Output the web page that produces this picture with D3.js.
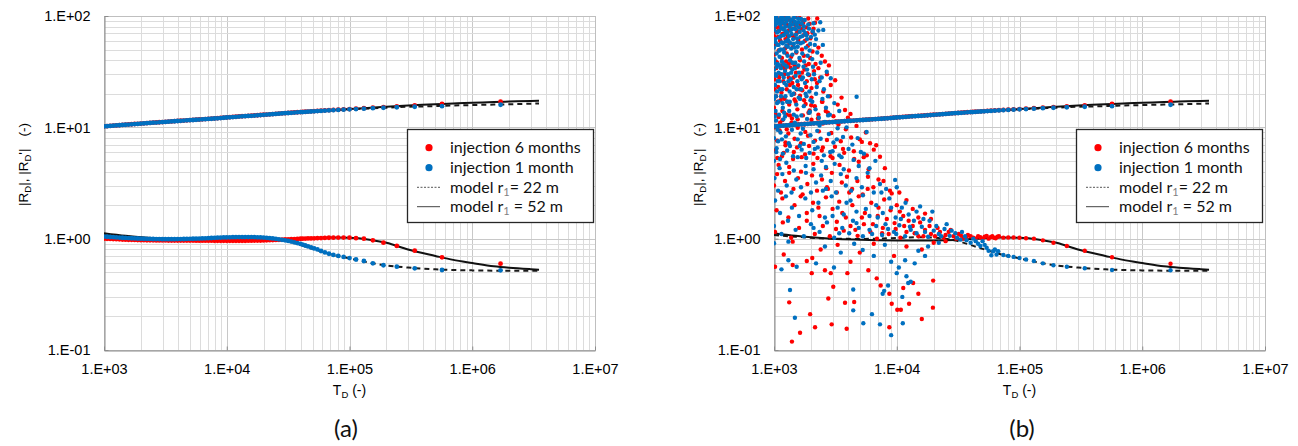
<!DOCTYPE html>
<html>
<head>
<meta charset="utf-8">
<script src="https://cdn.jsdelivr.net/npm/d3@7"></script>
<style>
  body { margin: 0; background: #fff; }
  svg { display: block; }
  .tick text { font-family: "Liberation Sans", Arial, sans-serif; font-size: 14.5px; fill: #000; }
</style>
</head>
<body>
<svg id="chart" width="1298" height="446"></svg>
<script>
// time grid shared by the two smooth curves (dense part then the sparse late-time points)
const tdGrid = [1000,1059,1122,1189,1259,1334,1413,1496,1585,1679,1778,1884,1995,2113,2239,2371,2512,2661,2818,2985,
  3162,3350,3548,3758,3981,4217,4467,4732,5012,5309,5623,5957,6310,6683,7079,7499,7943,8414,8913,9441,
  10000,10593,11220,11885,12589,13335,14125,14962,15849,16788,17783,18836,19953,21135,22387,23714,25119,26607,28184,29854,
  31623,33497,35481,37584,39811,41500,43600,45900,48600,51500,54800,58600,63000,68000,73900,81000,89500,100000,113000,131000,
  155000,189000,243000,340000,567000,1700000];

// |R_D| , injection 1 month (blue) and 6 months (red)
const rdBlue = [10.20,10.25,10.29,10.35,10.40,10.44,10.50,10.55,10.59,10.65,10.70,10.74,10.80,10.85,10.89,10.95,11.00,11.04,11.10,11.15,
  11.19,11.25,11.30,11.34,11.40,11.45,11.49,11.55,11.60,11.64,11.70,11.75,11.79,11.85,11.90,11.94,12.00,12.06,12.12,12.19,
  12.25,12.31,12.37,12.44,12.50,12.55,12.60,12.65,12.70,12.76,12.82,12.89,12.95,13.01,13.07,13.14,13.20,13.26,13.32,13.39,
  13.45,13.51,13.57,13.64,13.70,13.72,13.77,13.82,13.88,13.93,13.99,14.05,14.12,14.19,14.26,14.33,14.41,14.50,14.60,14.72,
  14.85,15.00,15.15,15.30,15.50,15.95];
const rdRed = [10.22,10.26,10.31,10.36,10.41,10.46,10.51,10.56,10.61,10.66,10.71,10.76,10.81,10.86,10.91,10.96,11.01,11.06,11.11,11.16,
  11.21,11.26,11.31,11.36,11.41,11.46,11.51,11.56,11.61,11.66,11.71,11.76,11.81,11.86,11.91,11.96,12.02,12.08,12.14,12.20,
  12.27,12.33,12.39,12.45,12.52,12.57,12.62,12.67,12.72,12.78,12.84,12.91,12.97,13.03,13.09,13.16,13.22,13.28,13.35,13.41,
  13.47,13.53,13.60,13.66,13.72,13.75,13.80,13.86,13.92,13.98,14.04,14.11,14.18,14.25,14.33,14.41,14.50,14.60,14.72,14.86,
  15.02,15.20,15.45,15.75,16.20,17.00];

// |R_D'| (smoothed, panel a)
const rdDerivBlue = [1.045,1.040,1.035,1.031,1.027,1.023,1.019,1.015,1.012,1.009,1.006,1.003,1.000,0.998,0.996,0.994,0.993,0.992,0.991,0.990,
  0.990,0.990,0.990,0.990,0.991,0.992,0.993,0.994,0.996,0.998,1.000,1.002,1.005,1.008,1.011,1.014,1.017,1.020,1.023,1.025,
  1.027,1.029,1.031,1.032,1.033,1.034,1.034,1.034,1.033,1.031,1.029,1.026,1.022,1.017,1.011,1.004,0.996,0.987,0.977,0.966,
  0.954,0.941,0.927,0.912,0.897,0.885,0.868,0.852,0.835,0.818,0.801,0.775,0.752,0.732,0.714,0.700,0.686,0.670,0.650,0.630,
  0.600,0.577,0.560,0.542,0.523,0.520];
const rdDerivRed = [1.000,0.998,0.995,0.992,0.989,0.986,0.983,0.980,0.978,0.976,0.974,0.972,0.970,0.969,0.968,0.967,0.966,0.965,0.965,0.964,
  0.964,0.963,0.963,0.963,0.962,0.962,0.962,0.961,0.961,0.961,0.960,0.960,0.960,0.959,0.959,0.959,0.958,0.958,0.958,0.958,
  0.958,0.958,0.958,0.958,0.958,0.958,0.958,0.959,0.960,0.961,0.962,0.963,0.965,0.967,0.969,0.971,0.974,0.977,0.980,0.983,
  0.986,0.989,0.992,0.995,0.998,1.000,1.002,1.004,1.006,1.008,1.010,1.013,1.016,1.019,1.021,1.023,1.023,1.020,1.010,1.000,
  0.966,0.920,0.860,0.780,0.680,0.596];

// model curves
const tdModel = [1000,1500,2000,3000,5000,7000,10000,15000,20000,30000,50000,70000,100000,150000,200000,300000,500000,700000,1000000,1500000,2000000,3000000,3500000];
const modelUpper52 = [10.2,10.6,10.85,11.25,11.7,12.0,12.3,12.7,13.0,13.45,13.95,14.25,14.6,15.0,15.3,15.7,16.1,16.4,16.6,16.9,17.05,17.25,17.3];
const modelUpper22 = [10.2,10.6,10.85,11.25,11.7,12.0,12.3,12.7,12.95,13.4,13.9,14.2,14.5,14.8,15.0,15.3,15.5,15.7,15.85,16.0,16.1,16.3,16.35];
const modelLower52 = [1.12,1.06,1.03,1.0,0.98,0.97,0.965,0.963,0.965,0.975,1.005,1.022,1.02,0.975,0.92,0.80,0.70,0.645,0.605,0.565,0.548,0.532,0.527];
const modelLower22 = [1.08,1.04,1.02,1.0,0.995,1.0,1.015,1.03,1.02,0.96,0.81,0.725,0.665,0.605,0.575,0.55,0.53,0.523,0.519,0.516,0.515,0.514,0.514];

// raw |R_D'| for panel b, early times (T_D < 7e4), [T_D, value]
const rawDerivRed = [
  [1000,88],[1030,72],[1050,96],[1080,65],[1110,80],[1140,91],[1170,69],[1210,99],[1240,62],[1280,83],[1320,74],[1350,93],[1400,67],[1440,86],[1490,98],[1530,70],[1580,61],[1640,84],[1700,92],[1760,68],
  [1830,79],[1900,95],[1980,63],[2060,71],[2160,87],
  [1005,66],[1020,98],[1040,79],[1065,90],[1095,74],[1120,61],[1150,85],[1180,95],[1195,77],[1225,70],[1260,90],[1295,66],[1335,81],[1370,76],[1420,92],[1460,64],[1510,82],[1560,73],[1610,96],[1670,77],
  [1730,87],[1790,60],[1870,70],[1950,85],[2100,77],[2250,95],
  [1000,45],[1030,56],[1060,38],[1090,49],[1130,59],[1160,42],[1200,35],[1230,51],[1270,46],[1310,37],[1340,57],[1380,43],[1430,53],[1470,36],[1520,47],[1570,58],[1630,40],[1690,50],[1750,44],[1810,36],
  [1890,54],[1970,42],[2060,48],[2180,37],[2300,52],[2450,44],[2600,39],
  [1010,27],[1040,34],[1080,23],[1120,30],[1150,20.5],[1190,26],[1230,33],[1270,22],[1320,28],[1360,34.5],[1410,25],[1460,20],[1510,31],[1570,24],[1630,28.5],[1700,21.5],[1770,33],[1850,26],[1930,29.5],[2020,22.5],
  [2120,32],[2240,25],[2380,28],[2520,21],[2700,30],[2900,24],[3150,26.5],
  [1010,22],[1035,39],[1070,17],[1100,28],[1140,36],[1175,18.5],[1215,30],[1255,39],[1290,17],[1345,24],[1390,38],[1440,28],[1500,17],[1560,35],[1620,22],[1690,31],[1760,17.5],[1830,23],[1920,37],[2010,15.8],
  [2150,27],[2300,34],[2480,17],[2800,36],
  [1000,15],[1040,19],[1090,12.4],[1130,17.5],[1170,14],[1220,18],[1270,13],[1330,16],[1400,12],[1470,17.8],[1550,14.5],[1630,19.2],[1720,12.8],[1810,16.2],[1910,13.5],[2020,18.5],[2150,15.5],[2300,13],[2460,17],[2640,14],
  [2850,19],[3050,12.6],[3300,16],[3790,14.3],[3550,18.5],[4200,13.2],
  [1010,10],[1060,7.6],[1110,9.4],[1170,11.6],[1240,7.3],[1310,8.8],[1390,11],[1470,7.9],[1560,9.9],[1660,7.2],[1770,10.6],[1890,8.4],[2020,11.7],[2160,7.6],[2320,9.2],[2500,10.8],[2700,7.7],[2930,8.9],[3200,11.3],[3500,7.5],
  [3850,9.6],[4250,8.1],[4700,10.3],[5200,7.4],[6060,7.2],[5600,9.0],
  [1030,13.2],[1065,5.3],[1120,11],[1200,5.9],[1270,9.6],[1350,12.8],[1450,6],[1560,11.8],[1680,5.4],[1800,9.1],[1950,14.2],[2100,5.8],[2280,12],[2500,6.6],[2750,13.5],[3000,5.3],[3350,10.6],[3650,6.4],[4000,12.2],[4500,5.2],
  [5000,7.8],[5700,5.6],[6800,6.9],
  [1020,6.2],[1090,4.6],[1160,5.5],[1240,6.9],[1330,4.4],[1430,5.2],[1540,6.6],[1660,4.0],[1790,5.7],[1930,6.8],[2090,4.7],[2260,5.3],[2450,6.2],[2660,4.3],[2890,5.5],[3140,6.7],[3420,4.6],[3730,5.9],[4080,4.1],[4470,6.1],
  [4900,4.9],[5380,5.4],[5900,4.2],[7300,5.45],[6500,6.3],[8000,4.3],
  [1000,3.0],[1060,3.8],[1140,2.6],[1230,3.3],[1330,3.9],[1440,2.8],[1570,3.5],[1710,2.5],[1870,3.1],[2040,3.7],[2240,2.7],[2460,3.4],[2700,2.9],[2960,3.9],[3250,2.6],[3570,3.2],[3930,3.6],[4330,2.8],[4780,3.3],[5280,2.5],
  [5830,3.6],[6450,2.9],[7100,3.4],[7800,3.3],[8800,2.7],[10500,2.6],
  [1050,1.8],[1170,2.3],[1310,1.55],[1470,2.0],[1650,2.4],[1850,1.7],[2080,2.1],[2350,1.6],[2650,2.35],[3000,1.85],[3400,2.15],[3850,1.55],[4350,2.0],[4900,2.4],[5500,1.7],[6200,2.1],[7000,1.6],[7900,2.25],[8900,1.8],[10000,2.0],
  [11300,1.6],[12000,2.22],[13500,1.85],[15000,1.55],[17000,1.68],[19000,1.5],
  [2300,1.9],[2750,2.8],[3200,1.22],[3600,1.7],[4100,2.6],[4600,1.2],[5200,1.55],[5800,2.8],[6400,1.35],[7100,1.9],[7600,1.12],[8300,1.5],[9100,2.55],[9800,1.22],[10600,1.75],[11500,1.3],[12500,1.45],[14000,1.12],[15500,1.4],[16500,1.05],
  [18500,1.3],[20500,1.05],[22500,1.15],[25000,1.08],[27500,1.2],[30500,1.0],[33500,1.06],[37000,1.02],[40000,1.05],[44000,1.0],[48000,1.03],[52000,1.04],[56000,1.0],[60000,1.05],[64000,1.01],[68000,1.05],
  [1020,1.15],[1180,1.4],[1380,1.02],[1600,1.25],[1850,1.45],[2150,1.1],[2500,1.3],[2850,1.05],[3250,1.42],[3700,1.18],[4200,1.3],[4800,1.06],[5400,1.35],[6100,1.15],[6900,1.0],[7700,1.25],[8600,1.1],[9600,1.38],[10700,1.02],[12000,1.15],
  [13500,1.3],[15000,1.05],[17000,1.2],[19000,1.1],[21500,1.25],[24000,1.02],[26500,1.15],[29000,1.05],[32000,1.1],[35000,1.0],[38000,1.08],[42000,1.02],[46000,1.05],[50000,1.0],[54000,1.06],[58000,1.03],[62000,1.02],[66000,1.04],
  [1020,0.56],[1420,0.94],[1420,0.58],[1330,0.268],[1630,0.143],[1400,0.119],[1970,0.21],[2160,0.16],[2030,0.49],[1850,0.63],[2050,0.67],[2770,0.29],[2950,0.17],[3040,0.37],[2600,0.52],[2900,0.49],[3790,0.266],[4500,0.27],[3910,0.155],[3960,0.49],
  [4200,0.62],[5870,0.52],[6870,0.44],[7400,0.38],[8700,0.16],[8700,0.32],[9100,0.26],[10100,0.23],[10800,0.23],[11300,0.36],[12600,0.26],[13600,0.40],[15000,0.32],[16000,0.19],[19800,0.42],[19700,0.24],[1200,0.72],[2400,0.8],[3300,0.88],[5000,0.75],
  [6500,0.9],[9500,0.7],[12000,0.85],[16000,0.8],[20000,0.92],[25000,0.95]
];
const rawDerivBlue = [
  [1000,95],[1020,82],[1040,98],[1060,71],[1080,88],[1100,64],[1120,92],[1150,78],[1170,99],[1190,67],[1220,85],[1250,73],[1270,96],[1300,61],[1330,80],[1360,90],[1390,69],[1420,84],[1460,97],[1500,76],
  [1540,63],[1580,88],[1620,72],[1660,94],[1700,66],[1750,81],[1800,70],[1860,62],[1930,77],[2000,65],[2100,86],[2300,74],[2520,75],[2200,62],
  [1005,75],[1015,90],[1025,62],[1045,85],[1065,55],[1075,93],[1095,73],[1105,49],[1125,84],[1135,66],[1145,97],[1155,58],[1165,88],[1185,76],[1195,50],[1205,94],[1215,68],[1235,80],[1245,59],[1265,89],
  [1285,71],[1295,53],[1310,97],[1325,66],[1345,83],[1365,57],[1375,75],[1400,93],[1430,62],[1440,77],[1470,52],[1480,89],[1510,68],[1530,83],[1550,58],[1570,95],[1600,79],[1640,65],[1680,86],[1720,58],
  [1740,74],[1780,92],[1840,67],[1900,84],[1970,56],[2070,73],[2150,68],[2380,88],
  [1000,52],[1010,41],[1030,58],[1050,46],[1070,37],[1090,55],[1110,43],[1130,50],[1160,39],[1180,57],[1210,47],[1240,36],[1260,54],[1290,44],[1320,59],[1350,40],[1380,51],[1410,45],[1450,56],[1490,38],
  [1520,48],[1560,53],[1610,42],[1650,57],[1700,46],[1760,39],[1820,52],[1880,44],[1950,49],[2050,41],[2150,55],[2250,47],[2500,55],[2400,38],
  [1000,33],[1020,24],[1040,29],[1060,21],[1090,31],[1110,26],[1140,34],[1170,22],[1200,28],[1230,32],[1260,24],[1300,30],[1340,21],[1370,27],[1410,33],[1450,23],[1500,29],[1550,26],[1600,31],[1660,22],
  [1720,28],[1790,25],[1860,33],[1940,21],[2030,27],[2120,30],[2230,23],[2350,26],[2690,31.6],[2900,27.6],[2550,22],
  [1005,38],[1025,30],[1035,19],[1055,35],[1075,26],[1085,17],[1105,36],[1125,22],[1150,30],[1175,16.5],[1195,37],[1215,25],[1240,19],[1275,35],[1310,26],[1345,17],[1380,31],[1420,38],[1440,20],[1480,34],
  [1530,22],[1580,36],[1630,18],[1680,27],[1740,35],[1810,20],[1890,30],[1980,17.5],[2080,35],[2200,20],[2450,28],[2750,19],
  [1000,18],[1030,14],[1060,16.5],[1100,13],[1140,19],[1180,15],[1230,12.5],[1280,17],[1330,14],[1390,19.5],[1450,13],[1520,16],[1590,18.5],[1670,12.8],[1750,15.5],[1840,19],[1940,13.5],[2050,17],[2180,14.5],[2320,12.2],
  [2480,18],[2650,15],[2850,13],[3100,16.5],[4710,18.8],[3400,14],
  [1000,8],[1040,11.5],[1080,7.5],[1130,9],[1190,11.8],[1250,8.3],[1320,7.2],[1400,9.5],[1480,11],[1560,7.8],[1650,8.8],[1750,7.1],[1860,11.9],[1980,8.5],[2100,7.4],[2250,9.3],[2400,7.9],[2600,11.2],[2800,8.7],[3050,7.3],
  [3300,9.8],[3650,8.2],[4100,11.5],[5680,9.1],[4800,8.0],
  [1015,12.5],[1045,6],[1070,9.5],[1120,5.2],[1160,7.8],[1210,13.5],[1280,6.2],[1360,10.5],[1430,5.5],[1530,12.5],[1620,6.8],[1720,9.7],[1830,5.3],[1960,13.8],[2150,6.4],[2350,10.4],[2550,5.6],[2760,12.8],[3000,6.1],[3250,7.8],
  [3550,5.4],[3900,10.0],[4350,7.0],[5100,6.0],
  [1000,5],[1050,6.5],[1110,4.3],[1180,5.8],[1260,4.8],[1350,6.8],[1450,4.1],[1560,5.4],[1680,6.3],[1810,4.5],[1950,5.9],[2100,4.2],[2270,6.6],[2450,5.0],[2650,4.4],[2870,6.0],[3120,4.7],[3400,5.6],[3700,4.2],[4050,6.4],
  [4450,5.1],[4900,4.5],[5400,5.8],[6000,4.3],[6700,5.0],
  [1010,3.5],[1080,2.7],[1170,3.8],[1270,3.0],[1390,2.6],[1520,3.4],[1660,2.9],[1820,3.9],[2000,2.6],[2200,3.2],[2420,3.7],[2650,2.8],[2900,3.3],[3200,2.6],[3500,3.8],[3850,3.0],[4250,2.7],[4700,3.5],[5200,2.9],[5800,3.9],
  [6500,2.6],[7300,3.1],[8200,2.8],[9700,3.37],[10000,2.9],
  [1020,2.2],[1120,1.7],[1250,2.4],[1400,1.9],[1600,1.6],[1800,2.3],[2050,1.8],[2300,2.1],[2600,1.55],[2950,2.4],[3300,1.9],[3700,1.65],[4200,2.2],[4700,1.75],[5300,2.45],[6000,1.6],[6800,2.0],[7700,1.7],[8700,2.3],[9800,1.55],
  [11000,1.9],[12500,1.65],[14500,1.75],[16500,1.5],
  [2100,1.25],[2500,2.7],[3000,1.6],[3400,1.12],[3900,2.1],[4400,1.45],[4900,1.25],[5600,1.85],[6300,1.1],[7000,1.55],[7500,2.6],[8100,1.35],[9000,1.9],[9900,1.1],[10800,1.5],[11800,2.1],[12800,1.28],[13800,1.45],[15500,1.95],[17000,1.15],
  [18500,1.45],[19500,1.75],[21000,1.3],[23000,1.05],[25500,1.35],[28000,1.18],[31000,1.02],[34000,1.15],[37000,0.97],[42000,1.0],[46000,0.9],[50000,0.95],[54000,0.83],[61000,0.77],[65000,0.72],
  [1000,1.3],[1150,1.1],[1300,1.45],[1500,1.2],[1750,1.05],[2000,1.35],[2350,1.15],[2700,1.4],[3100,1.02],[3600,1.25],[4100,1.12],[4700,1.38],[5300,1.05],[6000,1.2],[6800,1.3],[7600,1.08],[8500,1.22],[9500,1.15],[10500,1.32],[11700,1.05],
  [13000,1.2],[14500,1.12],[16000,1.28],[18000,1.04],[20000,1.18],[22000,1.1],[24500,1.22],[27000,1.06],[30000,1.12],[33000,0.98],[36000,1.05],[40000,0.92],[44000,0.95],[48000,0.86],[52000,0.88],[56000,0.78],[59000,0.71],[63000,0.80],[67000,0.77],
  [1000,0.91],[1150,0.53],[1310,0.94],[1310,0.64],[1350,0.346],[1480,0.195],[1530,0.56],[2200,0.6],[3080,0.55],[4420,0.35],[4420,0.227],[5340,0.174],[5280,0.79],[6280,0.21],[7680,0.32],[7900,0.34],[7300,0.17],[8500,0.38],[9000,0.136],[11100,0.30],
  [11200,0.174],[12400,0.40],[10000,0.49],[10400,0.55],[11700,0.64],[12000,0.46],[13000,0.41],[2600,0.85],[3500,0.75],[4500,0.9],[6500,0.7],[8000,0.88],[15000,0.78],[18000,0.85],[22000,0.92],[9000,0.62],[14000,0.6],[17000,0.7]
];

const xTicks = [1e3, 1e4, 1e5, 1e6, 1e7];
const yTicks = [0.1, 1, 10, 100];
const legendLabels = ['injection 6 months', 'injection 1 month'];

const RED = '#ff0000', BLUE = '#0070c0';
const TOP = 16, BOTTOM = 350;
const svg = d3.select('#chart');

function sci(d) {
  const e = Math.round(Math.log10(d));
  return '1.E' + (e < 0 ? '-' : '+') + String(Math.abs(e)).padStart(2, '0');
}
const zip = (ts, vs) => ts.map((t, i) => [t, vs[i]]);

const panels = [
  { left: 104, right: 595, legendX: 407, yLabelX: 28, tag: '(a)', tagX: 346,
    lowRed: zip(tdGrid, rdDerivRed), lowBlue: zip(tdGrid, rdDerivBlue) },
  { left: 774, right: 1265, legendX: 1076, yLabelX: 703, tag: '(b)', tagX: 1022,
    lowRed: rawDerivRed.concat(zip(tdGrid, rdDerivRed).filter(d => d[0] >= 70000)),
    lowBlue: rawDerivBlue.concat(zip(tdGrid, rdDerivBlue).filter(d => d[0] >= 70000)) }
];

panels.forEach((p, pi) => {
  const x = d3.scaleLog().domain([1e3, 1e7]).range([p.left, p.right]);
  const y = d3.scaleLog().domain([0.1, 100]).range([BOTTOM, TOP]);
  const g = svg.append('g');

  // grid
  const grid = g.append('g');
  const isMajor = d => Math.abs(Math.log10(d) - Math.round(Math.log10(d))) < 1e-9;
  grid.selectAll('line.vx').data(x.ticks()).join('line')
    .attr('x1', d => Math.round(x(d)) + 0.5).attr('x2', d => Math.round(x(d)) + 0.5)
    .attr('y1', TOP).attr('y2', BOTTOM)
    .attr('stroke', d => isMajor(d) ? '#c8c8c8' : '#dcdcdc').attr('stroke-width', 1);
  grid.selectAll('line.hy').data(y.ticks()).join('line')
    .attr('y1', d => Math.round(y(d)) + 0.5).attr('y2', d => Math.round(y(d)) + 0.5)
    .attr('x1', p.left).attr('x2', p.right)
    .attr('stroke', d => isMajor(d) ? '#c8c8c8' : '#dcdcdc').attr('stroke-width', 1);
  g.append('rect').attr('x', p.left + 0.5).attr('y', TOP + 0.5)
    .attr('width', p.right - p.left).attr('height', BOTTOM - TOP)
    .attr('fill', 'none').attr('stroke', '#bfbfbf');

  // axes
  const ax = g.append('g').attr('transform', `translate(0,${BOTTOM + 0.5})`)
    .call(d3.axisBottom(x).tickValues(xTicks).tickFormat(sci).tickSizeInner(-4).tickSizeOuter(0).tickPadding(13));
  const ay = g.append('g').attr('transform', `translate(${p.left + 0.5},0)`)
    .call(d3.axisLeft(y).tickValues(yTicks).tickFormat(sci).tickSizeInner(-4).tickSizeOuter(0).tickPadding(14));
  [ax, ay].forEach(a => {
    a.select('.domain').attr('stroke', '#8c8c8c');
    a.selectAll('.tick line').attr('stroke', '#8c8c8c');
  });
  ay.selectAll('.tick text').attr('dy', '0.34em');

  // model lines
  const clipId = 'clip' + pi;
  g.append('clipPath').attr('id', clipId).append('rect')
    .attr('x', p.left).attr('y', TOP).attr('width', p.right - p.left).attr('height', BOTTOM - TOP);
  const plot = g.append('g').attr('clip-path', `url(#${clipId})`);
  const line = d3.line().x(d => x(d[0])).y(d => y(d[1])).curve(d3.curveMonotoneX);
  [[modelUpper22, true], [modelLower22, true], [modelUpper52, false], [modelLower52, false]].forEach(([vals, dashed]) => {
    plot.append('path').datum(zip(tdModel, vals)).attr('d', line)
      .attr('fill', 'none').attr('stroke', dashed ? '#1a1a1a' : '#111')
      .attr('stroke-width', 2).attr('stroke-dasharray', dashed ? '5,4' : null);
  });

  // dots
  const dots = (data, color, r) => plot.append('g').selectAll('circle').data(data).join('circle')
    .attr('cx', d => x(d[0])).attr('cy', d => y(d[1])).attr('r', r).attr('fill', color);
  dots(zip(tdGrid, rdRed), RED, 2.4);
  dots(p.lowRed, RED, pi === 0 ? 2.4 : 2.2);
  dots(zip(tdGrid, rdBlue), BLUE, 2.4);
  dots(p.lowBlue, BLUE, pi === 0 ? 2.4 : 2.2);

  // axis titles
  const xt = g.append('text').attr('x', (p.left + p.right) / 2).attr('y', 395)
    .attr('text-anchor', 'middle').style('font-family', '"Liberation Sans", Arial, sans-serif').style('font-size', '14px');
  xt.append('tspan').text('T');
  xt.append('tspan').text('D').attr('dy', 3).style('font-size', '9.5px');
  xt.append('tspan').text(' (-)').attr('dy', -3);

  const yt = g.append('text').attr('transform', `translate(${p.yLabelX},164.5) rotate(-90)`)
    .attr('text-anchor', 'middle').style('font-family', '"Liberation Sans", Arial, sans-serif').style('font-size', '13.5px');
  yt.append('tspan').text('|R');
  yt.append('tspan').text('D').attr('dy', 3).style('font-size', '9.5px');
  yt.append('tspan').text('|, |R').attr('dy', -3);
  yt.append('tspan').text('D').attr('dy', 3).style('font-size', '9.5px');
  yt.append('tspan').text("'|").attr('dy', -3);
  yt.append('tspan').text('(-)').attr('dx', 12);

  // legend
  const lg = g.append('g').attr('transform', `translate(${p.legendX},129)`);
  lg.append('rect').attr('x', 0.5).attr('y', 0.5).attr('width', 186).attr('height', 93)
    .attr('fill', '#fff').attr('stroke', '#262626').attr('stroke-width', 1.3);
  const rowY = [18.7, 38.7, 58.3, 77.7];
  lg.append('circle').attr('cx', 22).attr('cy', rowY[0]).attr('r', 3.6).attr('fill', RED);
  lg.append('circle').attr('cx', 22).attr('cy', rowY[1]).attr('r', 3.6).attr('fill', BLUE);
  lg.append('line').attr('x1', 10).attr('x2', 33).attr('y1', rowY[2]).attr('y2', rowY[2])
    .attr('stroke', '#555').attr('stroke-width', 1).attr('stroke-dasharray', '2,1.5');
  lg.append('line').attr('x1', 10).attr('x2', 33).attr('y1', rowY[3]).attr('y2', rowY[3])
    .attr('stroke', '#444').attr('stroke-width', 1);
  const lt = (i) => lg.append('text').attr('x', 43).attr('y', rowY[i] + 5.6)
    .style('font-family', 'Lato, "Open Sans", sans-serif').style('font-size', '16px').attr('fill', '#111');
  lt(0).text(legendLabels[0]);
  lt(1).text(legendLabels[1]);
  [['= 22 m', 2], [' = 52 m', 3]].forEach(([rest, i]) => {
    const t = lt(i);
    t.append('tspan').text('model r');
    t.append('tspan').text('1').attr('dy', 3).style('font-size', '11px').attr('fill', '#7f7f7f');
    t.append('tspan').text(rest).attr('dy', -3);
  });

  // panel tag
  g.append('text').attr('x', p.tagX).attr('y', 437).attr('text-anchor', 'middle')
    .style('font-family', 'Lato, "Open Sans", sans-serif').style('font-size', '24px').attr('fill', '#111')
    .text(p.tag);
});
</script>
</body>
</html>
